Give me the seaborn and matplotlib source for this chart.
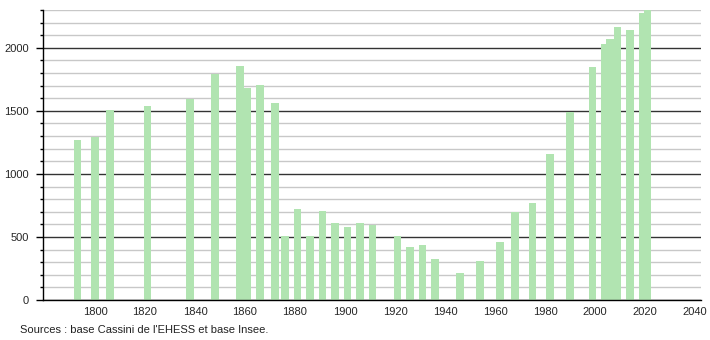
import matplotlib
matplotlib.use("Agg")
import matplotlib.pyplot as plt
from matplotlib.ticker import MultipleLocator
import seaborn as sns
import pandas as pd
import numpy as np

years = [1793, 1800, 1806, 1821, 1838, 1848, 1858, 1861, 1866, 1872,
         1876, 1881, 1886, 1891, 1896, 1901, 1906, 1911, 1921, 1926,
         1931, 1936, 1946, 1954, 1962, 1968, 1975, 1982, 1990, 1999,
         2004, 2006, 2009, 2014, 2019, 2021]
population = [1270, 1295, 1510, 1536, 1595, 1796, 1859, 1679, 1708, 1565,
              508, 723, 508, 707, 612, 580, 612, 593, 508, 421,
              437, 326, 215, 310, 461, 699, 771, 1155, 1494, 1851,
              2034, 2071, 2169, 2145, 2273, 2310]
x_ticks = [1800, 1820, 1840, 1860, 1880, 1900, 1920, 1940, 1960, 1980, 2000, 2020, 2040]
source_text = "Sources : base Cassini de l'EHESS et base Insee."

df = pd.DataFrame({"year": years, "pop": population})

sns.set_style("white")
plt.rcParams["font.family"] = ["Liberation Sans", "DejaVu Sans"]

fig = plt.figure(figsize=(7.1, 3.4), dpi=100)
ax = fig.add_axes([43 / 710, 40 / 340, (701 - 43) / 710, 290 / 340])

min_gap = np.min(np.diff(sorted(set(years))))
sns.barplot(data=df, x="year", y="pop", native_scale=True,
            width=3.2 / min_gap, color="#b1e4b1", saturation=1,
            errorbar=None, linewidth=0, ax=ax)

ax.set_xlim(1779.2, 2042.4)
ax.set_ylim(0, 2300)
ax.set_xticks(x_ticks)
ax.set_xticklabels([str(t) for t in x_ticks])
ax.yaxis.set_major_locator(MultipleLocator(500))
ax.yaxis.set_minor_locator(MultipleLocator(100))
ax.set_axisbelow(True)
ax.grid(which="minor", axis="y", color="#c8c8c8", linewidth=1)
ax.grid(which="major", axis="y", color="#333333", linewidth=1)
ax.grid(False, axis="x")

ax.tick_params(axis="y", which="major", length=5, width=1, color="black",
               labelsize=8, pad=5, direction="out", left=True)
ax.tick_params(axis="y", which="minor", length=2.5, width=1, color="black",
               direction="out", left=True)
ax.tick_params(axis="x", which="both", length=0, labelsize=8, pad=5)

for s in ["top", "right"]:
    ax.spines[s].set_visible(False)
for s in ["left", "bottom"]:
    ax.spines[s].set_color("black")
    ax.spines[s].set_linewidth(1)

ax.set_xlabel("")
ax.set_ylabel("")

fig.text(20 / 710, 1 - 333 / 340, source_text, fontsize=8, ha="left",
         va="baseline", color="#222222")

fig.savefig("out.png", dpi=100)
